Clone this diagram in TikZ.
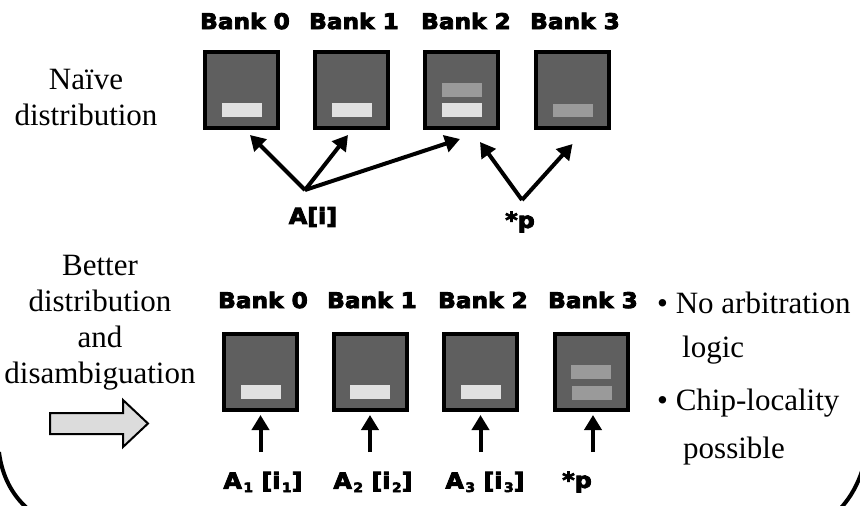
\documentclass[tikz,border=0pt]{standalone}
\usepackage{fontspec}
\setmainfont{Liberation Serif}
\newfontfamily\heavyfont[FakeBold=4,FakeStretch=1.08]{DejaVu Sans Bold}
\usetikzlibrary{arrows.meta,calc}
\definecolor{boxgray}{HTML}{5F5F5F}
\definecolor{barlight}{HTML}{E0E0E0}
\definecolor{barmid}{HTML}{9A9A9A}
\definecolor{arrowfill}{HTML}{DCDCDC}
% lowered index digit for the array references
\newcommand\idx[1]{\kern1.5pt\raisebox{-3.5pt}{\fontsize{13}{13}\selectfont #1}}
\begin{document}
\begin{tikzpicture}[x=1pt,y=-1pt,
  bank/.style={draw=black,line width=4pt,fill=boxgray,minimum width=73pt,minimum height=76pt,inner sep=0pt},
  banklabel/.style={font=\heavyfont\fontsize{21.5}{24}\selectfont,inner sep=0pt},
  reflabel/.style={font=\heavyfont\fontsize{22}{24}\selectfont,inner sep=0pt},
  serif/.style={font=\fontsize{31}{36}\selectfont,align=center,inner sep=0pt},
  bullet/.style={align=left,inner sep=0pt,anchor=base west},
  ptr/.style={line width=4pt,-{Triangle[length=15pt,width=17pt]}},
  litebar/.style={fill=barlight},
  midbar/.style={fill=barmid},
  frame/.style={line width=4pt}]
\useasboundingbox (0,0) rectangle (860,506);

% ---------- naive distribution ----------
\node[serif] (naive) at (86,98) {Naïve\\distribution};

\foreach \i/\x in {0/241.5,1/351.5,2/461.5,3/572.5}{
  \node[bank] (t\i) at (\x,90) {};
}
\node[banklabel] (tl0) at (245,21) {Bank 0};
\node[banklabel] (tl1) at (354,21) {Bank 1};
\node[banklabel] (tl2) at (466,21) {Bank 2};
\node[banklabel] (tl3) at (575,21) {Bank 3};

\fill[litebar] ($(t0.center)+(-20,13)$) rectangle ++(40,14);
\fill[litebar] ($(t1.center)+(-20,13)$) rectangle ++(40,14);
\fill[midbar]  ($(t2.center)+(-20,-7)$) rectangle ++(40,14);
\fill[litebar] ($(t2.center)+(-20,13)$) rectangle ++(40,14);
\fill[midbar]  ($(t3.center)+(-20,14)$) rectangle ++(40,13);

\node[reflabel] (ai) at (313,217) {A[i]};
\node[reflabel] (sp) at (520,222) {*p};
\coordinate (aitop) at (305,190);
\coordinate (sptop) at (522,200);

\draw[ptr] (aitop) -- ($(t0.south)+(8.5,5)$);
\draw[ptr] (aitop) -- ($(t1.south)+(-3.5,5)$);
\draw[ptr] (aitop) -- ($(t2.south)+(-1.5,9)$);
\draw[ptr] (sptop) -- ($(t2.south)+(18.5,12)$);
\draw[ptr] (sptop) -- ($(t3.south)+(0,14)$);

% ---------- better distribution ----------
\node[serif] (better) at (100,323) {Better\\distribution\\and\\disambiguation};

\draw[line width=2pt,fill=arrowfill,line join=miter]
  (50,413) -- (123,413) -- (123,400) -- (148,423.5) -- (123,447) -- (123,434) -- (50,434) -- cycle;

\foreach \i/\x in {0/260.5,1/370,2/480.5,3/591}{
  \node[bank] (b\i) at (\x,372) {};
}
\node[banklabel] (bl0) at (263,300) {Bank 0};
\node[banklabel] (bl1) at (372,300) {Bank 1};
\node[banklabel] (bl2) at (483,300) {Bank 2};
\node[banklabel] (bl3) at (593,300) {Bank 3};

\fill[litebar] ($(b0.center)+(-20,13)$) rectangle ++(40,14);
\fill[litebar] ($(b1.center)+(-20,13)$) rectangle ++(40,14);
\fill[litebar] ($(b2.center)+(-20,13)$) rectangle ++(40,14);
\fill[midbar]  ($(b3.center)+(-20,-7)$) rectangle ++(40,14);
\fill[midbar]  ($(b3.center)+(-19,14)$) rectangle ++(40,14);

\node[reflabel] (r0) at (263,482) {A\idx{1} [i\idx{1}]};
\node[reflabel] (r1) at (373,482) {A\idx{2} [i\idx{2}]};
\node[reflabel] (r2) at (485,482) {A\idx{3} [i\idx{3}]};
\node[reflabel] (r3) at (577,482) {*p};

\draw[ptr] ($(b0.south)+(0,40)$) -- ($(b0.south)+(0,3)$);
\draw[ptr] ($(b1.south)+(0,40)$) -- ($(b1.south)+(0,3)$);
\draw[ptr] ($(b2.south)+(0,40)$) -- ($(b2.south)+(0,3)$);
\draw[ptr] ($(b3.south)+(2,40)$) -- ($(b3.south)+(2,3)$);

\node[bullet,font=\fontsize{31}{44}\selectfont] (n1) at (657,357)
  {\textbullet\ No arbitration\\\hspace{25pt}logic};
\node[bullet,font=\fontsize{31}{48}\selectfont] (n2) at (657,458)
  {\textbullet\ Chip-locality\\\hspace{26pt}possible};

% ---------- rounded frame corners ----------
\draw[frame] (-1,452) .. controls (2,476) and (12,495) .. (28,509);
\draw[frame] (863,468) .. controls (858,484) and (851,497) .. (840,509);
\end{tikzpicture}
\end{document}
